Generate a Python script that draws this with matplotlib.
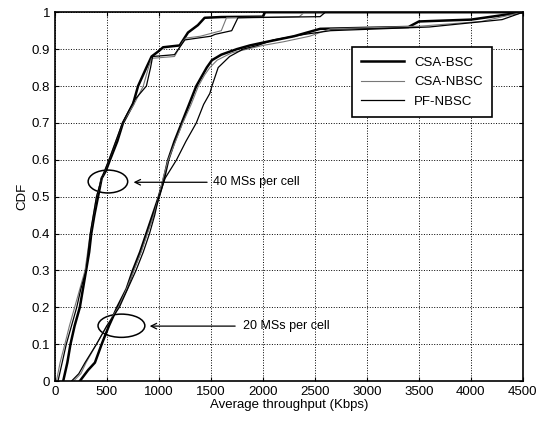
import matplotlib.pyplot as plt
import numpy as np
from matplotlib.patches import Ellipse

plt.rcParams['font.family'] = ['Liberation Sans', 'DejaVu Sans']

# 40 MSs per cell
bsc40_x = [80, 120, 150, 190, 240, 270, 300, 330, 350, 380, 415, 450, 490, 530, 600, 655, 750, 800, 880, 930, 1000, 1040, 1200, 1280, 1375, 1440, 1600, 2000, 2020, 4500]
bsc40_y = [0, 0.05, 0.1, 0.15, 0.2, 0.25, 0.3, 0.35, 0.4, 0.45, 0.5, 0.55, 0.57, 0.6, 0.65, 0.7, 0.75, 0.8, 0.85, 0.88, 0.895, 0.905, 0.91, 0.945, 0.965, 0.985, 0.987, 0.988, 1.0, 1.0]
nbsc40_x = [15, 50, 96, 140, 190, 240, 290, 340, 400, 450, 520, 650, 760, 850, 900, 930, 1150, 1230, 1260, 1400, 1600, 1650, 2350, 2400, 4500]
nbsc40_y = [0, 0.05, 0.1, 0.15, 0.2, 0.25, 0.3, 0.4, 0.5, 0.55, 0.6, 0.7, 0.75, 0.8, 0.85, 0.875, 0.88, 0.92, 0.93, 0.935, 0.95, 0.985, 0.988, 1.0, 1.0]
pf40_x = [30, 70, 110, 160, 210, 250, 300, 340, 400, 450, 520, 650, 760, 880, 920, 940, 1150, 1250, 1500, 1540, 1700, 1760, 2550, 2600, 4500]
pf40_y = [0, 0.05, 0.1, 0.15, 0.2, 0.25, 0.3, 0.4, 0.5, 0.55, 0.6, 0.7, 0.76, 0.8, 0.85, 0.88, 0.885, 0.925, 0.935, 0.94, 0.95, 0.985, 0.988, 1.0, 1.0]

# 20 MSs per cell
bsc20_x = [240, 320, 385, 450, 520, 600, 690, 750, 820, 880, 940, 1000, 1050, 1090, 1150, 1220, 1290, 1360, 1420, 1460, 1510, 1600, 1750, 1875, 2040, 2300, 2550, 3400, 3500, 4000, 4500]
bsc20_y = [0, 0.03, 0.05, 0.1, 0.15, 0.2, 0.25, 0.3, 0.35, 0.4, 0.45, 0.5, 0.55, 0.6, 0.65, 0.7, 0.75, 0.8, 0.83, 0.85, 0.87, 0.885, 0.9, 0.91, 0.92, 0.935, 0.955, 0.96, 0.975, 0.98, 1.0]
nbsc20_x = [180, 250, 300, 400, 500, 610, 690, 760, 830, 890, 950, 1000, 1040, 1090, 1160, 1230, 1310, 1380, 1440, 1490, 1560, 1700, 1850, 2000, 2200, 2450, 2650, 3500, 4100, 4500]
nbsc20_y = [0, 0.02, 0.05, 0.1, 0.15, 0.2, 0.25, 0.3, 0.35, 0.4, 0.45, 0.5, 0.55, 0.6, 0.65, 0.7, 0.75, 0.8, 0.83, 0.85, 0.87, 0.89, 0.9, 0.91, 0.92, 0.935, 0.955, 0.962, 0.975, 1.0]
pf20_x = [160, 230, 290, 400, 500, 620, 700, 780, 850, 910, 960, 1000, 1060, 1170, 1260, 1360, 1430, 1490, 1510, 1570, 1680, 1810, 1950, 2100, 2400, 2650, 3600, 4300, 4500]
pf20_y = [0, 0.02, 0.05, 0.1, 0.15, 0.2, 0.25, 0.3, 0.35, 0.4, 0.45, 0.5, 0.55, 0.6, 0.65, 0.7, 0.75, 0.78, 0.8, 0.85, 0.88, 0.9, 0.91, 0.925, 0.94, 0.95, 0.96, 0.98, 1.0]

fig = plt.figure(figsize=(5.38, 4.22), dpi=100)
ax = fig.add_axes([0.102, 0.097, 0.870, 0.874])

ax.plot(bsc40_x, bsc40_y, color='black', linewidth=1.8, label='CSA-BSC')
ax.plot(nbsc40_x, nbsc40_y, color='#777777', linewidth=0.8, label='CSA-NBSC')
ax.plot(pf40_x, pf40_y, color='black', linewidth=0.9, label='PF-NBSC')
ax.plot(bsc20_x, bsc20_y, color='black', linewidth=1.8)
ax.plot(nbsc20_x, nbsc20_y, color='#777777', linewidth=0.8)
ax.plot(pf20_x, pf20_y, color='black', linewidth=0.9)

ax.add_patch(Ellipse((510, 0.541), 380, 0.062, fill=False, edgecolor='black', linewidth=1.1))
ax.add_patch(Ellipse((640, 0.150), 450, 0.063, fill=False, edgecolor='black', linewidth=1.1))
ax.annotate('', xy=(730, 0.539), xytext=(1490, 0.539),
            arrowprops=dict(arrowstyle='->', color='black', lw=0.9))
ax.annotate('', xy=(885, 0.149), xytext=(1760, 0.149),
            arrowprops=dict(arrowstyle='->', color='black', lw=0.9))
ax.text(1520, 0.539, '40 MSs per cell', fontsize=9, va='center')
ax.text(1810, 0.149, '20 MSs per cell', fontsize=9, va='center')

ax.set_xlim(0, 4500)
ax.set_ylim(0, 1)
ax.set_xticks(np.arange(0, 4501, 500))
ax.set_yticks(np.arange(0, 1.01, 0.1))
ax.set_yticklabels(['0', '0.1', '0.2', '0.3', '0.4', '0.5', '0.6', '0.7', '0.8', '0.9', '1'])
ax.tick_params(direction='in', labelsize=9.5, top=True, right=True, length=3)
ax.grid(True, color='black', linestyle=':', linewidth=0.7)
for s in ax.spines.values():
    s.set_linewidth(1.2)

ax.set_xlabel('Average throughput (Kbps)', fontsize=9.5, labelpad=1)
ax.set_ylabel('CDF', fontsize=9.5, labelpad=2)

leg = ax.legend(loc='upper right', bbox_to_anchor=(0.934, 0.905), borderaxespad=0,
                fontsize=9.5, fancybox=False, framealpha=1, edgecolor='black',
                handlelength=3.2, borderpad=0.7, labelspacing=0.55)
leg.get_frame().set_linewidth(1.2)

fig.savefig('out.png', dpi=100)
